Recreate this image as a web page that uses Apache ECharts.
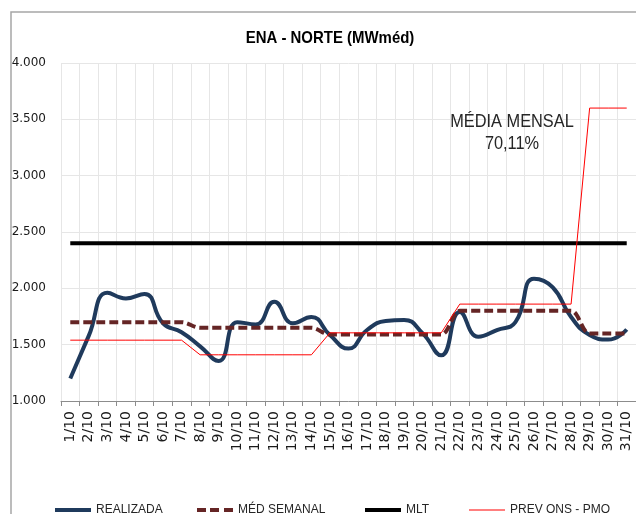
<!DOCTYPE html>
<html>
<head>
<meta charset="utf-8">
<script src="https://cdn.jsdelivr.net/npm/echarts@6/dist/echarts.min.js"></script>
<style>
html,body{margin:0;padding:0;background:#fff;}
#chart{width:636px;height:514px;}
</style>
</head>
<body>
<div id="chart"></div>
<script>
const categories = ['1/10','2/10','3/10','4/10','5/10','6/10','7/10','8/10','9/10','10/10','11/10','12/10','13/10','14/10','15/10','16/10','17/10','18/10','19/10','20/10','21/10','22/10','23/10','24/10','25/10','26/10','27/10','28/10','29/10','30/10','31/10'];
const realizada = [1200,1580,1960,1910,1950,1690,1610,1485,1355,1700,1680,1880,1690,1745,1585,1465,1630,1710,1720,1600,1405,1790,1570,1630,1700,2085,2010,1745,1585,1545,1635];
const medSemanal = [1700,1700,1700,1700,1700,1700,1700,1650,1650,1650,1650,1650,1650,1650,1590,1590,1590,1590,1590,1590,1590,1800,1800,1800,1800,1800,1800,1800,1600,1600,1600];
const mlt = [2400,2400,2400,2400,2400,2400,2400,2400,2400,2400,2400,2400,2400,2400,2400,2400,2400,2400,2400,2400,2400,2400,2400,2400,2400,2400,2400,2400,2400,2400,2400];
const prevOns = [1540,1540,1540,1540,1540,1540,1540,1410,1410,1410,1410,1410,1410,1410,1605,1605,1605,1605,1605,1605,1605,1860,1860,1860,1860,1860,1860,1860,3600,3600,3600];
const yTicks = {min:1000, max:4000, interval:500};
const titleText = 'ENA - NORTE (MWméd)';
const noteText = 'MÉDIA MENSAL\n70,11%';

const chart = echarts.init(document.getElementById('chart'), null, {renderer:'canvas'});
const sans = '"Liberation Sans", Arial, sans-serif';
const legendText = {fontFamily: sans, fontSize: 12, color: '#262626'};
function leg(name, left, icon, h){
  return {data:[name], left:left, top:504, itemWidth:36, itemHeight:h, icon:icon,
    textStyle:legendText, selectedMode:false, padding:0};
}
const solidIcon = 'path://M0,0h36v4h-36z';
const dashIcon = 'path://M0,0h9v4h-9zM13,0h9v4h-9zM27,0h9v4h-9z';
const thinIcon = 'path://M0,0h36v1h-36z';
chart.setOption({
  backgroundColor:'#fff',
  animation:false,
  grid:{left:61, right:0, top:63, bottom:113, containLabel:false, outerBoundsMode:'none'},
  legend:[leg('REALIZADA',55,solidIcon,4), leg('MÉD SEMANAL',197,dashIcon,4), leg('MLT',365,solidIcon,4), leg('PREV ONS - PMO',469,thinIcon,1)],
  graphic:[
    {type:'rect', z:-10, silent:true, shape:{x:11, y:12, width:700, height:600},
      style:{fill:'none', stroke:'#a6a6a6', lineWidth:1.5}},
    {type:'text', x:330, y:38, scaleX:0.88, z:100, silent:true,
      style:{text:titleText, font:'bold 17px "Liberation Sans", Arial, sans-serif',
        fill:'#000', textAlign:'center', textVerticalAlign:'middle'}},
    {type:'text', x:512, y:133, scaleX:0.86, z:100, silent:true,
      style:{text:noteText, font:'19px "Liberation Sans", Arial, sans-serif',
        fill:'#262626', textAlign:'center', textVerticalAlign:'middle', lineHeight:22}}
  ],
  xAxis:{type:'category', data:categories, boundaryGap:true,
    axisLine:{show:true, lineStyle:{color:'#8c8c8c', width:1}},
    axisTick:{show:true, length:5, lineStyle:{color:'#8c8c8c'}},
    splitLine:{show:true, lineStyle:{color:'#e6e6e6', width:1}},
    axisLabel:{interval:0, rotate:90, margin:10, fontFamily:'"DejaVu Sans", Verdana, sans-serif', fontSize:14, color:'#1a1a1a'}
  },
  yAxis:{type:'value', min:yTicks.min, max:yTicks.max, interval:yTicks.interval,
    axisLine:{show:false}, axisTick:{show:false},
    splitLine:{show:true, lineStyle:{color:'#e6e6e6', width:1}},
    axisLabel:{margin:15, fontFamily:'"DejaVu Sans", Verdana, sans-serif', fontSize:12, color:'#1a1a1a',
      formatter:(v)=> (v/1000).toFixed(3)}
  },
  series:[
    {name:'REALIZADA', type:'line', data:realizada, smooth:0.5, symbol:'none',
      lineStyle:{color:'#1f3a5c', width:4}, itemStyle:{color:'#1f3a5c'}, z:2},
    {name:'MÉD SEMANAL', type:'line', data:medSemanal, smooth:0.35, symbol:'none',
      lineStyle:{color:'#652525', width:4, type:[9,4]}, itemStyle:{color:'#652525'}, z:3},
    {name:'MLT', type:'line', data:mlt, symbol:'none',
      lineStyle:{color:'#000', width:4}, itemStyle:{color:'#000'}, z:4},
    {name:'PREV ONS - PMO', type:'line', data:prevOns, symbol:'none',
      lineStyle:{color:'#ff0000', width:1}, itemStyle:{color:'#ff0000'}, z:5}
  ]
});
</script>
</body>
</html>
